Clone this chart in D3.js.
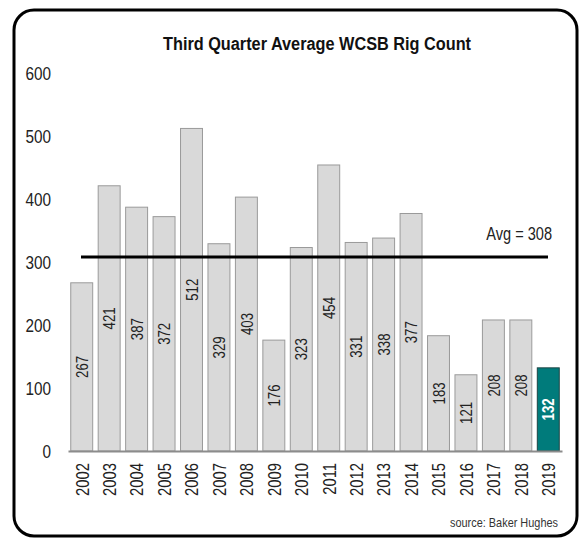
<!DOCTYPE html>
<html>
<head>
<meta charset="utf-8">
<script src="https://cdn.jsdelivr.net/npm/d3@7"></script>
<style>
  body { margin: 0; background: #fff; }
  svg text { font-family: "Liberation Sans Narrow", "Arial Narrow", "Liberation Sans", Arial, sans-serif; }
</style>
</head>
<body>
<svg id="chart" width="585" height="538"></svg>
<script>
// Q3 average rig count, Western Canadian Sedimentary Basin
const years = ["2002","2003","2004","2005","2006","2007","2008","2009","2010",
               "2011","2012","2013","2014","2015","2016","2017","2018","2019"];
const rigCount = [267, 421, 387, 372, 512, 329, 403, 176, 323,
                  454, 331, 338, 377, 183, 121, 208, 208, 132];
const avgValue = 308;
const yTicks = [0, 100, 200, 300, 400, 500, 600];

// no narrow font around, so squeeze the glyphs by hand
const squeeze = 0.78;

const svg = d3.select("#chart");

// frame
svg.append("rect")
    .attr("x", 14).attr("y", 10)
    .attr("width", 563).attr("height", 526)
    .attr("rx", 20).attr("ry", 20)
    .attr("fill", "none")
    .attr("stroke", "#000")
    .attr("stroke-width", 3);

const x = d3.scaleBand()
    .domain(years)
    .range([68, 562])
    .paddingInner(0.2)
    .paddingOuter(0.1);

const y = d3.scaleLinear()
    .domain([0, 600])
    .range([451, 73]);

// y labels only
const yAxis = svg.append("g")
    .attr("transform", "translate(51,0)")
    .call(d3.axisLeft(y).tickValues(yTicks).tickSize(0).tickFormat(d3.format("d")));
yAxis.select(".domain").remove();
yAxis.selectAll("text")
    .attr("x", 0)
    .attr("dy", "0.36em")
    .attr("transform", "scale(0.85,1)")
    .attr("font-size", 18)
    .attr("fill", "#222");

// bars
const last = years[years.length - 1];
svg.selectAll(".bar")
    .data(years)
  .enter().append("rect")
    .attr("class", "bar")
    .attr("x", (d) => x(d))
    .attr("y", (d, i) => y(rigCount[i]))
    .attr("width", x.bandwidth())
    .attr("height", (d, i) => y(0) - y(rigCount[i]))
    .attr("fill", (d) => d === last ? "#007b7b" : "#d9d9d9")
    .attr("stroke", (d) => d === last ? "#1d4545" : "#9a9a9a")
    .attr("stroke-width", 1);

// values inside bars, rotated
svg.selectAll(".val")
    .data(years)
  .enter().append("text")
    .attr("class", "val")
    .attr("transform", (d, i) => "translate(" + (x(d) + x.bandwidth() / 2) + "," +
        ((y(0) + y(rigCount[i])) / 2) + ") rotate(-90) scale(" + squeeze + ",1)")
    .attr("text-anchor", "middle")
    .attr("dy", "0.36em")
    .attr("font-size", 17)
    .attr("font-weight", (d) => d === last ? "bold" : "normal")
    .attr("fill", (d) => d === last ? "#fff" : "#222")
    .text((d, i) => rigCount[i]);

// x axis
const xAxis = svg.append("g")
    .attr("transform", "translate(0," + y(0) + ")")
    .call(d3.axisBottom(x).tickSize(0).tickPadding(0));
xAxis.select(".domain")
    .attr("stroke", "#8c8c8c")
    .attr("stroke-width", 2);
xAxis.selectAll("text")
    .attr("transform", "translate(0,12) rotate(-90) scale(" + squeeze + ",1)")
    .attr("text-anchor", "end")
    .attr("dy", "0.36em")
    .attr("y", 0)
    .attr("x", 0)
    .attr("font-size", 19)
    .attr("fill", "#222");

// average line
svg.append("line")
    .attr("x1", 81).attr("x2", 548)
    .attr("y1", y(avgValue)).attr("y2", y(avgValue))
    .attr("stroke", "#000")
    .attr("stroke-width", 3);

svg.append("text")
    .attr("transform", "translate(552," + (y(avgValue) - 17) + ") scale(0.81,1)")
    .attr("text-anchor", "end")
    .attr("font-size", 18)
    .attr("fill", "#222")
    .text("Avg = " + avgValue);

// title
svg.append("text")
    .attr("x", 163).attr("y", 50)
    .attr("textLength", 308)
    .attr("lengthAdjust", "spacingAndGlyphs")
    .attr("font-size", 18)
    .attr("font-weight", "bold")
    .attr("fill", "#111")
    .text("Third Quarter Average WCSB Rig Count");

svg.append("text")
    .attr("transform", "translate(558,527) scale(0.84,1)")
    .attr("text-anchor", "end")
    .attr("font-size", 13)
    .attr("fill", "#333")
    .text("source: Baker Hughes");
</script>
</body>
</html>
